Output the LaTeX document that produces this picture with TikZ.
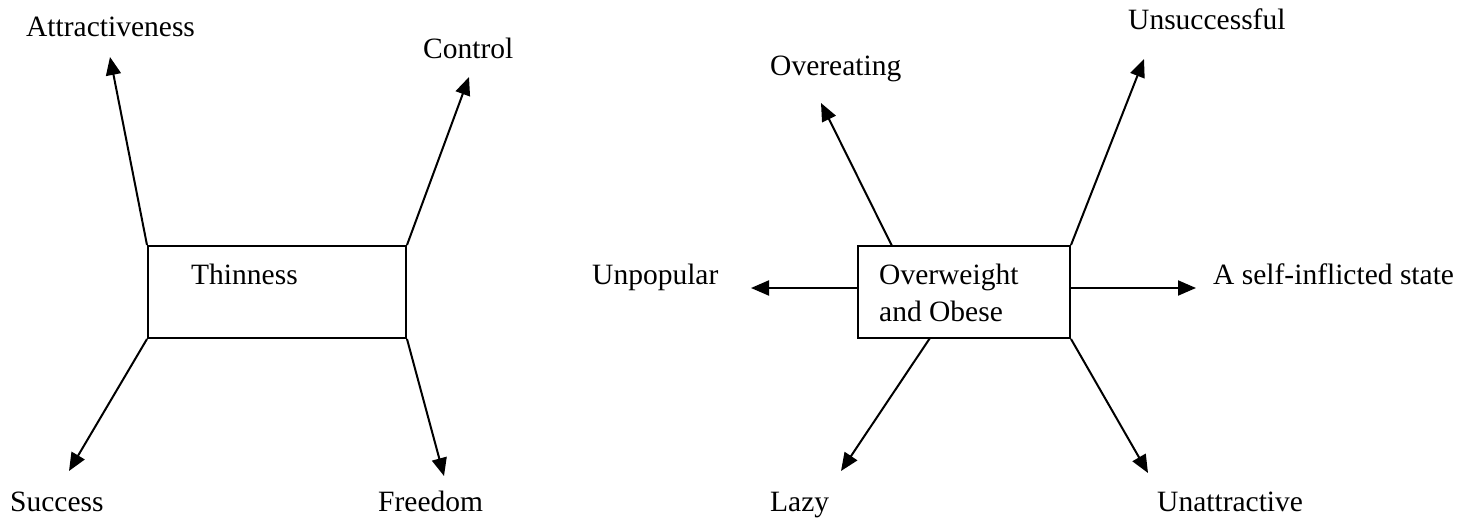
\documentclass[tikz,border=0pt]{standalone}
\usepackage{fontspec}
\setmainfont{Liberation Serif}
\usetikzlibrary{arrows.meta}
\begin{document}
\begin{tikzpicture}[x=1pt,y=-1pt,
  lbl/.style={anchor=base west,inner sep=0pt,font=\fontsize{29.5}{38}\selectfont},
  boxs/.style={draw,line width=2pt,inner sep=0pt},
  arr/.style={line width=2pt,-{Triangle[length=18pt,width=15pt]}}]
\useasboundingbox (0,0) rectangle (1470,519);
% boxes
\node[boxs,minimum width=258pt,minimum height=92pt] (thin) at (277,292) {};
\node[boxs,minimum width=212pt,minimum height=92pt] (over) at (964,292) {};
\node[lbl] (thint) at (191,284) {Thinness};
\node[lbl] (overt) at (879,284) {Overweight};
\node[lbl] (overt2) at (879,321) {and Obese};
% labels
\node[lbl] (attr) at (26,37) {Attractiveness};
\node[lbl] (ctrl) at (423,59) {Control};
\node[lbl] (succ) at (10,511) {Success};
\node[lbl] (free) at (378,511) {Freedom};
\node[lbl] (overe) at (770,76) {Overeating};
\node[lbl] (unsu) at (1128,30) {Unsuccessful};
\node[lbl] (unpo) at (592,284) {Unpopular};
\node[lbl] (self) at (1213,284) {A self-inflicted state};
\node[lbl] (lazy) at (770,511) {Lazy};
\node[lbl] (unat) at (1157,511) {Unattractive};
% tips
\coordinate (tattr) at (110,57);
\coordinate (tctrl) at (469,77);
\coordinate (tsucc) at (69,471);
\coordinate (tfree) at (444,476);
\coordinate (tovere) at (821,103);
\coordinate (tunsu) at (1144,59);
\coordinate (tunpo) at (751,288);
\coordinate (tself) at (1196,288);
\coordinate (tlazy) at (841,471);
\coordinate (tunat) at (1148,473);
\coordinate (sovere) at (892,246);
\coordinate (slazy) at (930,338);
% arrows
\draw[arr] (thin.north west) -- (tattr);
\draw[arr] (thin.north east) -- (tctrl);
\draw[arr] (thin.south west) -- (tsucc);
\draw[arr] (thin.south east) -- (tfree);
\draw[arr] (sovere) -- (tovere);
\draw[arr] (over.north east) -- (tunsu);
\draw[arr] (over.west |- 0,288) -- (tunpo);
\draw[arr] (over.east |- 0,288) -- (tself);
\draw[arr] (slazy) -- (tlazy);
\draw[arr] (over.south east) -- (tunat);
\end{tikzpicture}
\end{document}
